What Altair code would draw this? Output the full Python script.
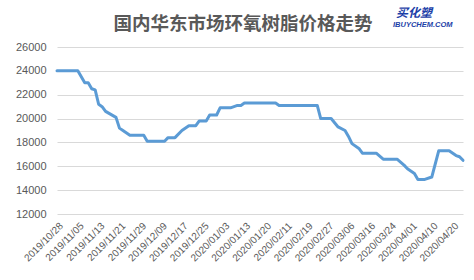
import altair as alt
import pandas as pd

# x positions are trading-day indices; labels every 6 trading days
label_dates = ["2019/10/28", "2019/11/05", "2019/11/13", "2019/11/21", "2019/11/29",
               "2019/12/09", "2019/12/17", "2019/12/25", "2020/01/03", "2020/01/13",
               "2020/01/20", "2020/02/11", "2020/02/19", "2020/02/27", "2020/03/06",
               "2020/03/16", "2020/03/24", "2020/04/01", "2020/04/10", "2020/04/20"]
label_idx = [i * 6 for i in range(len(label_dates))]

day_idx = [0, 6, 8, 9, 10, 11, 12, 13, 14, 17, 18, 19, 21, 25, 26, 31, 32, 34, 36, 38,
           40, 41, 43, 44, 46, 47, 50, 52, 53, 54, 63, 64, 75, 76, 79, 81, 83, 84, 85, 87,
           88, 92, 94, 98, 100, 101, 103, 104, 106, 108, 110, 113, 115, 116, 117]
price = [24000, 24000, 23000, 23000, 22500, 22400, 21200, 21000, 20600, 20100,
         19200, 19000, 18600, 18600, 18100, 18100, 18400, 18400, 19000, 19400,
         19400, 19800, 19800, 20300, 20300, 20900, 20900, 21100, 21100, 21300,
         21300, 21100, 21100, 20000, 20000, 19300, 19000, 18500, 17900, 17500,
         17100, 17100, 16600, 16600, 16100, 15800, 15400, 14900, 14900, 15100,
         17300, 17300, 16900, 16800, 16500]

title_text = "国内华东市场环氧树脂价格走势"
logo_cn = "买化塑"
logo_en = "IBUYCHEM.COM"

df = pd.DataFrame({"idx": day_idx, "price": price})

label_js = "[" + ",".join("'" + d + "'" for d in label_dates) + "]"

line = alt.Chart(df).mark_line(color="#5b9bd5", strokeWidth=3, strokeJoin="round", strokeCap="round").encode(
    x=alt.X("idx:Q",
            scale=alt.Scale(domain=[0, 117], nice=False, zero=False),
            axis=alt.Axis(values=label_idx, labelExpr=label_js + "[round(datum.value/6)]",
                          labelAngle=-45, labelAlign="right", labelBaseline="middle",
                          labelPadding=10, labelOffset=4, labelFont="Liberation Sans",
                          labelFontSize=10, labelColor="#595959", ticks=False, domain=False,
                          grid=False, title=None, labelOverlap=False)),
    y=alt.Y("price:Q",
            scale=alt.Scale(domain=[12000, 26000], nice=False, zero=False),
            axis=alt.Axis(values=list(range(12000, 26001, 2000)), format="d",
                          labelFont="Liberation Sans",
                          labelFontSize=11, labelColor="#595959", labelPadding=11,
                          ticks=False, domain=False, gridColor="#d9d9d9", gridWidth=1,
                          title=None)),
)

title = alt.Chart(pd.DataFrame({"t": [title_text]})).mark_text(
    font="Noto Sans CJK SC", fontSize=18.5, fontWeight="bold", color="#595959",
    align="center", baseline="alphabetic").encode(
    text="t:N", x=alt.value(186), y=alt.value(-17))

logo1 = alt.Chart(pd.DataFrame({"t": [logo_cn]})).mark_text(
    font="Noto Sans CJK SC", fontSize=12, fontWeight="bold", fontStyle="italic", color="#1d3fa8",
    align="left", baseline="alphabetic").encode(
    text="t:N", x=alt.value(339), y=alt.value(-30))

logo2 = alt.Chart(pd.DataFrame({"t": [logo_en]})).mark_text(
    font="Liberation Sans", fontSize=7.5, fontWeight="bold", fontStyle="italic", color="#1d3fa8",
    align="left", baseline="alphabetic").encode(
    text="t:N", x=alt.value(336), y=alt.value(-20))

chart = alt.layer(line, title, logo1, logo2).properties(
    width=406, height=167,
    padding={"left": 57, "top": 47, "right": 11, "bottom": 66},
    autosize=alt.AutoSizeParams(type="none"),
    background="white",
).configure_view(stroke=None)

chart.save("out.html", embed_options={"renderer": "svg", "actions": False})
